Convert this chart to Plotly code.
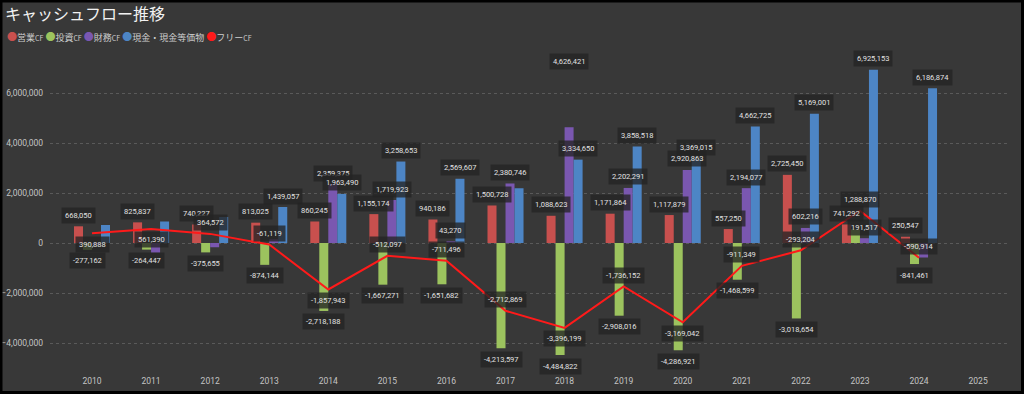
import plotly.graph_objects as go

years = [str(y) for y in range(2010, 2026)]
op_cf = [668050, 825837, 740227, 813025, 860245, 1155174, 940186, 1500728, 1088623,
         1171864, 1117879, 557250, 2725450, 741292, 250547, None]
inv_cf = [-277162, -264447, -375655, -874144, -2718188, -1667271, -1651682, -4213597,
          -4484822, -2908016, -4286921, -1468599, -3018654, 547578, -841461, None]
fin_cf = [-60000, -390000, -170000, 150000, 2359375, 1719923, 43270, 2380746, 4626421,
          2202291, 2920863, 2194077, 602216, 191517, -580000, None]
cash = [720000, 860000, 1040000, 1439057, 1963490, 3258653, 2569607, 2190000, 3334650,
        3858518, 3369015, 4662725, 5169001, 6925153, 6186874, None]
free_cf = [390888, 561390, 364572, -61119, -1857943, -512097, -711496, -2712869,
           -3396199, -1736152, -3169042, -911349, -293204, 1288870, -590914, None]

series_names = ["営業CF", "投資CF", "財務CF", "現金・現金等価物"]
series_vals = [op_cf, inv_cf, fin_cf, cash]
colors = ["#c8504e", "#9cc35e", "#7a57b0", "#4d85c5"]
free_color = "#ff1a1a"

# labels hidden in the reference (overlap)
hidden = {(3, "2010"), (3, "2011"), (3, "2012"), (2, "2010"), (2, "2011"), (2, "2012"),
          (2, "2013"), (3, "2017"), (1, "2023"), (2, "2024")}
free_below = {"2010", "2011", "2014", "2018", "2020"}
extra_shift = {(2, "2018"): 55}

W, H = 1024, 394
ml, mr, mt, mb = 50, 14, 55, 28
xr = [-0.711, 15.54]
yr = [-4.92e6, 7.52e6]
bargap = 0.39

fig = go.Figure()
for name, vals, col in zip(series_names, series_vals, colors):
    fig.add_trace(go.Bar(x=years, y=vals, name=name, marker=dict(color=col, line=dict(width=0)),
                         showlegend=False))
fig.add_trace(go.Scatter(x=years, y=free_cf, name="フリーCF", mode="lines",
                         line=dict(color=free_color, width=2), showlegend=False))

plot_w = W - ml - mr
plot_h = H - mt - mb
cat_px = plot_w / (xr[1] - xr[0])
bar_px = cat_px * (1 - bargap) / 4

lab_font = dict(family="Roboto", size=7.5, color="#e2e2e2")
lab_bg = "rgba(36,36,36,0.78)"
annos = []
for k, vals in enumerate(series_vals):
    off = (k - 1.5) * bar_px
    for i, (yv, v) in enumerate(zip(years, vals)):
        if v is None or (k, yv) in hidden:
            continue
        sh = 11 if v >= 0 else -11
        sh += extra_shift.get((k, yv), 0)
        annos.append(dict(x=i, y=v, xref="x", yref="y", text=f"{v:,}", showarrow=False,
                          xshift=off, yshift=sh, font=lab_font, bgcolor=lab_bg,
                          borderpad=3, xanchor="center", yanchor="middle"))
for i, (yv, v) in enumerate(zip(years, free_cf)):
    if v is None:
        continue
    sh = -11 if yv in free_below else 11
    annos.append(dict(x=i, y=v, xref="x", yref="y", text=f"{v:,}", showarrow=False,
                      yshift=sh, font=lab_font, bgcolor=lab_bg, borderpad=3,
                      xanchor="center", yanchor="middle"))

legend_items = list(zip(series_names + ["フリーCF"], colors + [free_color]))
legend_html = " ".join(
    f"<span style='color:{c}; font-size:10px'>●</span>{n.replace('CF', '<span style=\"font-size:7px\">CF</span>')}"
    for n, c in legend_items)
annos.append(dict(x=(5 - ml) / plot_w, y=(H - mb - 37) / plot_h, xref="paper", yref="paper",
                  text=legend_html, showarrow=False, xanchor="left", yanchor="middle",
                  font=dict(family="Noto Sans CJK JP", size=9, color="#cfcfcf")))

tick_font = dict(family="Roboto", size=8.5, color="#c4c4c4")
fig.update_layout(
    width=W, height=H,
    margin=dict(l=ml, r=mr, t=mt, b=mb, autoexpand=False),
    paper_bgcolor="#383838", plot_bgcolor="#383838",
    barmode="group", bargap=bargap, bargroupgap=0,
    title=dict(text="キャッシュフロー推移", x=5 / W, xanchor="left", xref="container",
               y=1 - 14 / H, yanchor="middle", yref="container",
               font=dict(family="Noto Sans CJK JP", size=16, color="#f2f2f2")),
    annotations=annos,
    xaxis=dict(type="category", range=xr, showgrid=False, zeroline=False, showline=False,
               ticks="", ticklabelstandoff=8, automargin=False, tickfont=tick_font),
    yaxis=dict(range=yr, tickvals=[-4e6, -2e6, 0, 2e6, 4e6, 6e6], tickformat=",d",
               showgrid=True, gridcolor="#5a5a5a", griddash="dot", gridwidth=1,
               zeroline=False, showline=False, ticks="", ticklabelstandoff=6,
               automargin=False, tickfont=tick_font),
    shapes=[dict(type="rect", xref="paper", yref="paper",
                 x0=-(ml - 1) / plot_w, x1=1 + (mr - 1.5) / plot_w,
                 y0=-(mb - 1.5) / plot_h, y1=1 + (mt - 1) / plot_h,
                 line=dict(color="#000000", width=3), layer="above")],
    showlegend=False,
)

fig.write_html("out.html", config={"displayModeBar": False},
               post_script="document.body.style.margin='0';document.body.style.background='#000';")
